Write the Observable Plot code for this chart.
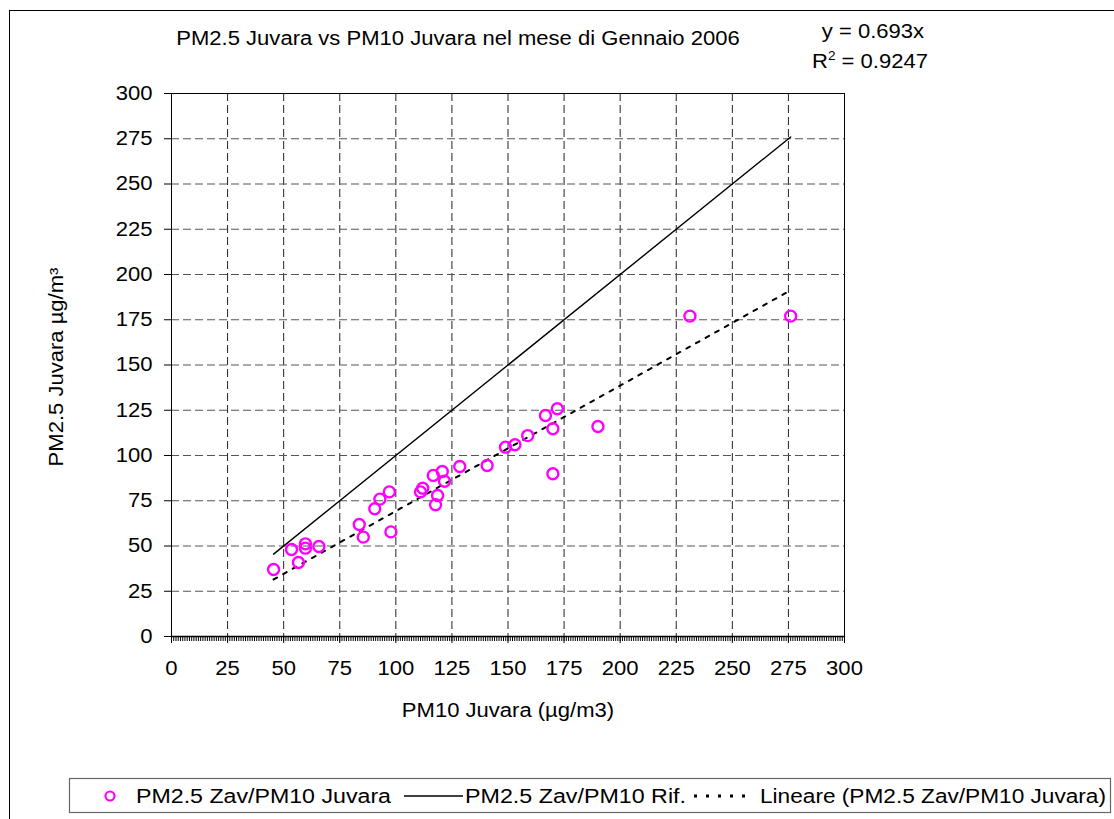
<!DOCTYPE html>
<html><head><meta charset="utf-8">
<script src="https://cdn.jsdelivr.net/npm/d3@7"></script>
<script src="https://cdn.jsdelivr.net/npm/@observablehq/plot@0.6"></script>
<style>body{margin:0;background:#fff}</style>
</head><body><div id="chart"></div>
<script>
// PM10 (x) and PM2.5 (y)
const pm10 = [45.5, 53.5, 56.6, 59.7, 59.7, 65.7, 83.7, 85.5, 90.6, 92.9, 97.1, 97.8, 111.0, 112.0, 116.7, 120.7, 121.7, 118.6, 117.7, 128.5, 140.7, 148.9, 153.1, 158.8, 166.7, 172.0, 170.0, 170.0, 190.1, 231.1, 276.0];
const pm25 = [37.0, 48.1, 40.9, 51.2, 48.8, 49.7, 61.9, 54.9, 70.6, 75.9, 79.9, 57.8, 79.9, 81.9, 89.0, 91.2, 85.8, 77.9, 72.8, 93.9, 94.5, 104.6, 105.9, 111.0, 122.1, 125.8, 114.8, 89.9, 116.0, 177.0, 177.0];
// reference line (PM2.5 = PM10) and linear trend endpoints
const refX = [45.5, 276.0];
const refY = [45.5, 276.0];
const trendX = [45.5, 276.0];
const trendY = [31.5, 191.3];
const xTicks = [0, 25, 50, 75, 100, 125, 150, 175, 200, 225, 250, 275, 300];
const yTicks = [0, 25, 50, 75, 100, 125, 150, 175, 200, 225, 250, 275, 300];
const minorStep = 1;
const titleText = "PM2.5 Juvara vs PM10 Juvara nel mese di Gennaio 2006";
const eqText = "y = 0.693x";
const r2Value = "0.9247";
const xLabel = "PM10 Juvara (µg/m3)";
const yLabel = "PM2.5 Juvara µg/m³";
const legendLabels = ["PM2.5 Zav/PM10 Juvara", "PM2.5 Zav/PM10 Rif.", "Lineare (PM2.5 Zav/PM10 Juvara)"];

const points = pm10.map((x, i) => ({x, y: pm25[i]}));
const refLine = refX.map((x, i) => ({x, y: refY[i]}));
const trendLine = trendX.map((x, i) => ({x, y: trendY[i]}));
const minorTicks = d3.range(xTicks[0], xTicks[xTicks.length - 1] + minorStep, minorStep);
const innerX = xTicks.slice(1, -1);
const innerY = yTicks.slice(1, -1);

const W = 1114, H = 819;
const chart = Plot.plot({
  width: W, height: H,
  marginLeft: 171, marginRight: 270, marginTop: 93, marginBottom: 183,
  x: {domain: [0, 300]},
  y: {domain: [0, 300]},
  style: {fontFamily: "'Liberation Sans', Arial, sans-serif", fontSize: "19.5px", background: "#fff", color: "#000"},
  marks: [
    Plot.gridX(innerX, {stroke: "#222", strokeOpacity: 1, strokeDasharray: "8,4"}),
    Plot.gridY(innerY, {stroke: "#555", strokeOpacity: 1, strokeDasharray: "8,4"}),
    Plot.frame({stroke: "#000"}),
    Plot.ruleY([0], {stroke: "#000", strokeWidth: 1.6}),
    Plot.axisX(minorTicks, {tickSize: 5, tickFormat: () => "", label: null, stroke: "#000"}),
    Plot.axisX(xTicks, {tickSize: 7, tickPadding: 18, label: null, stroke: "#000"}),
    Plot.axisY(yTicks, {tickSize: 7, tickPadding: 12, label: null, stroke: "#000"}),
    Plot.line(refLine, {x: "x", y: "y", stroke: "#000", strokeWidth: 1.4}),
    Plot.line(trendLine, {x: "x", y: "y", stroke: "#000", strokeWidth: 2, strokeDasharray: "4,7"}),
    Plot.dot(points, {x: "x", y: "y", r: 5.5, stroke: "#ff00ff", strokeWidth: 2.4, fill: "none"})
  ]
});
document.getElementById("chart").appendChild(chart);

const svg = d3.select(chart);
const FONT = "'Liberation Sans', Arial, sans-serif";
// outer chart border
svg.append("rect").attr("x", 9.5).attr("y", 10.5).attr("width", 1200).attr("height", 1000)
  .attr("fill", "none").attr("stroke", "#000").attr("stroke-width", 1);
// title
svg.append("text").attr("x", 458).attr("y", 45).attr("text-anchor", "middle")
  .style("font-family", FONT).style("font-size", "19.5px").text(titleText);
// equation
svg.append("text").attr("x", 873).attr("y", 37.5).attr("text-anchor", "middle")
  .style("font-family", FONT).style("font-size", "19.5px").text(eqText);
const r2 = svg.append("text").attr("x", 870).attr("y", 67.5).attr("text-anchor", "middle")
  .style("font-family", FONT).style("font-size", "19.5px");
r2.append("tspan").text("R");
r2.append("tspan").attr("dy", -8).style("font-size", "12px").text("2");
r2.append("tspan").attr("dy", 8).text(" = " + r2Value);
// axis labels
svg.append("text").attr("x", 508).attr("y", 717).attr("text-anchor", "middle")
  .style("font-family", FONT).style("font-size", "19.5px").text(xLabel);
svg.append("text").attr("transform", "translate(63,367) rotate(-90)").attr("text-anchor", "middle")
  .style("font-family", FONT).style("font-size", "19.5px").text(yLabel);

// stretch text horizontally like the reference
svg.selectAll("text").each(function() {
  const L = this.getComputedTextLength();
  if (L > 0) {
    this.setAttribute("textLength", (L * 1.13).toFixed(1));
    this.setAttribute("lengthAdjust", "spacingAndGlyphs");
  }
});

// legend
const lg = svg.append("g");
lg.append("rect").attr("x", 69.5).attr("y", 778.5).attr("width", 1041).attr("height", 34)
  .attr("fill", "#fff").attr("stroke", "#666").attr("stroke-width", 1.2);
lg.append("circle").attr("cx", 110).attr("cy", 796).attr("r", 4.5)
  .attr("fill", "none").attr("stroke", "#ff00ff").attr("stroke-width", 2.2);
const legText = (x, len, s) => lg.append("text").attr("x", x).attr("y", 803)
  .attr("text-anchor", "start")
  .attr("textLength", len).attr("lengthAdjust", "spacingAndGlyphs")
  .style("font-family", FONT).style("font-size", "19.5px").text(s);
legText(136, 255, legendLabels[0]);
lg.append("line").attr("x1", 404).attr("x2", 463).attr("y1", 796).attr("y2", 796)
  .attr("stroke", "#000").attr("stroke-width", 1.4);
legText(465, 221, legendLabels[1]);
lg.append("line").attr("x1", 694).attr("x2", 754).attr("y1", 796).attr("y2", 796)
  .attr("stroke", "#000").attr("stroke-width", 3).attr("stroke-dasharray", "3,9");
legText(760, 346, legendLabels[2]);
</script>
</body></html>
